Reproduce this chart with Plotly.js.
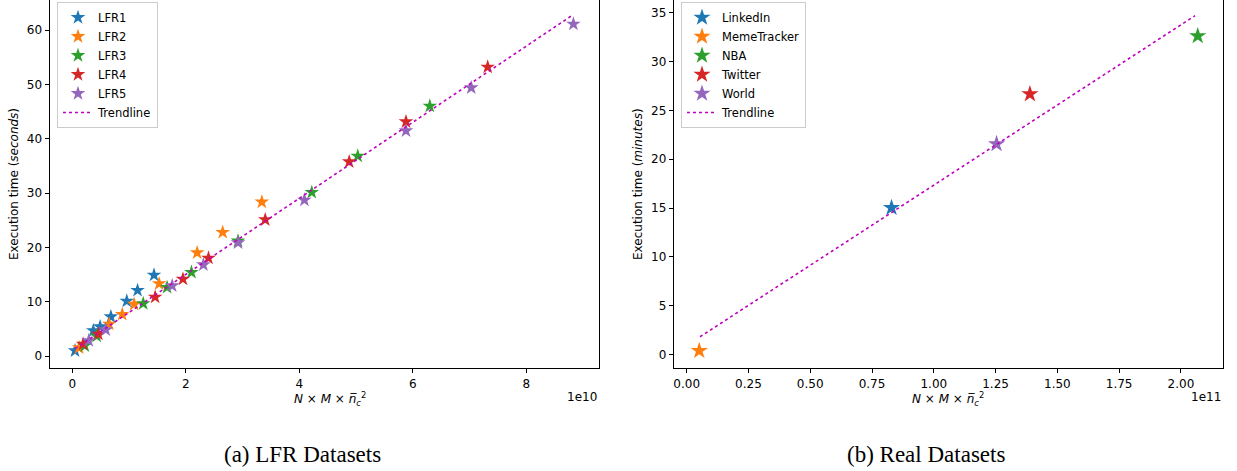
<!DOCTYPE html>
<html>
<head>
<meta charset="utf-8">
<script src="https://cdn.plot.ly/plotly-3.0.1.min.js"></script>
<style>html,body{margin:0;padding:0;background:#fff;}#chart{width:1237px;height:471px;}</style>
</head>
<body>
<div id="chart"></div>
<script>
// ---- Data: (a) LFR datasets, x in units of 1e10, y in seconds ----
const lfrNames = ["LFR1", "LFR2", "LFR3", "LFR4", "LFR5"];
const lfr1X = [0.048, 0.37, 0.49, 0.68, 0.96, 1.15, 1.44];
const lfr1Y = [0.98, 4.66, 5.39, 7.23, 10.12, 12.09, 14.91];
const lfr2X = [0.12, 0.65, 0.88, 1.09, 1.53, 2.20, 2.65, 3.34];
const lfr2Y = [1.53, 5.89, 7.68, 9.53, 13.31, 19.01, 22.77, 28.35];
const lfr3X = [0.22, 0.43, 1.25, 1.67, 2.10, 2.92, 4.22, 5.03, 6.30];
const lfr3Y = [1.90, 3.68, 9.66, 12.64, 15.41, 21.17, 30.13, 36.81, 46.01];
const lfr4X = [0.19, 0.46, 1.46, 1.95, 2.40, 3.40, 4.88, 5.88, 7.32];
const lfr4Y = [2.21, 4.05, 10.86, 14.17, 18.04, 25.09, 35.76, 43.12, 53.19];
const lfr5X = [0.29, 0.59, 1.76, 2.31, 2.92, 4.09, 5.88, 7.03, 8.83];
const lfr5Y = [2.85, 4.84, 12.94, 16.80, 20.85, 28.71, 41.47, 49.38, 61.11];
const lfrTrendX = [0.048, 8.80];
const lfrTrendY = [1.35, 62.64];

// ---- Data: (b) Real datasets, x in units of 1e11, y in minutes ----
const realNames = ["LinkedIn", "MemeTracker", "NBA", "Twitter", "World"];
const realX = [0.829, 0.051, 2.068, 1.389, 1.254];
const realY = [15.03, 0.37, 32.64, 26.69, 21.57];
const realTrendX = [0.054, 2.057];
const realTrendY = [1.80, 34.72];

const colors = ["#1f77b4", "#ff7f0e", "#2ca02c", "#d62728", "#9467bd"];
const trendColor = "#bf00bf";

const lfrX = [lfr1X, lfr2X, lfr3X, lfr4X, lfr5X];
const lfrY = [lfr1Y, lfr2Y, lfr3Y, lfr4Y, lfr5Y];

const traces = [];
lfrNames.forEach((n, i) => {
  traces.push({
    type: "scatter", mode: "markers", name: n,
    x: lfrX[i], y: lfrY[i], xaxis: "x", yaxis: "y", legend: "legend",
    marker: {symbol: "star", size: 11, color: colors[i], line: {width: 0}}
  });
});
traces.push({
  type: "scatter", mode: "lines", name: "Trendline",
  x: lfrTrendX, y: lfrTrendY, xaxis: "x", yaxis: "y", legend: "legend",
  line: {color: trendColor, width: 1.6, dash: "dot"}
});
realNames.forEach((n, i) => {
  traces.push({
    type: "scatter", mode: "markers", name: n,
    x: [realX[i]], y: [realY[i]], xaxis: "x2", yaxis: "y2", legend: "legend2",
    marker: {symbol: "star", size: 13, color: colors[i], line: {width: 0}}
  });
});
traces.push({
  type: "scatter", mode: "lines", name: "Trendline",
  x: realTrendX, y: realTrendY, xaxis: "x2", yaxis: "y2", legend: "legend2",
  line: {color: trendColor, width: 1.6, dash: "dot"}
});

const W = 1237, H = 471;
const px = v => v / W;
const py = v => 1 - v / H;
const font = {family: "DejaVu Sans", size: 12, color: "#000"};
const legFont = {family: "DejaVu Sans", size: 11.5, color: "#000"};

const axBase = {
  showline: true, linecolor: "#000", linewidth: 1,
  ticks: "outside", ticklen: 4.5, tickwidth: 1, tickcolor: "#000",
  showgrid: false, zeroline: false, tickfont: font, automargin: false
};

const xTitle = "<i>N</i> × <i>M</i> × <i>n̅</i><sub><i>c</i></sub><sup>2</sup>";

const layout = {
  width: W, height: H,
  margin: {l: 0, r: 0, t: 0, b: 0},
  paper_bgcolor: "#fff", plot_bgcolor: "#fff",
  font: font,
  showlegend: true,
  xaxis: Object.assign({}, axBase, {
    domain: [px(50), px(598.7)], range: [-0.393, 9.276],
    tickvals: [0, 2, 4, 6, 8], ticktext: ["0", "2", "4", "6", "8"], anchor: "y"
  }),
  yaxis: Object.assign({}, axBase, {
    domain: [py(367.7), 1], range: [-2.15, 65.53], mirror: true,
    tickvals: [0, 10, 20, 30, 40, 50, 60], anchor: "x"
  }),
  xaxis2: Object.assign({}, axBase, {
    domain: [px(674.3), px(1222.7)], range: [-0.050, 2.169],
    tickvals: [0, 0.25, 0.5, 0.75, 1, 1.25, 1.5, 1.75, 2], tickformat: ".2f", anchor: "y2"
  }),
  yaxis2: Object.assign({}, axBase, {
    domain: [py(367.7), 1], range: [-1.37, 36.33], mirror: true,
    tickvals: [0, 5, 10, 15, 20, 25, 30, 35], anchor: "x2"
  }),
  legend: {
    x: px(57), y: py(2), xanchor: "left", yanchor: "top",
    bgcolor: "rgba(255,255,255,0.8)", bordercolor: "#cccccc", borderwidth: 1,
    font: legFont, tracegroupgap: 0, itemwidth: 30
  },
  legend2: {
    x: px(681), y: py(2), xanchor: "left", yanchor: "top",
    bgcolor: "rgba(255,255,255,0.8)", bordercolor: "#cccccc", borderwidth: 1,
    font: legFont, tracegroupgap: 0, itemwidth: 30
  },
  annotations: [
    {text: "Execution time (<i>seconds</i>)", xref: "paper", yref: "paper",
     x: px(14), y: py(184), textangle: -90, showarrow: false,
     xanchor: "center", yanchor: "middle", font: font},
    {text: "Execution time (<i>minutes</i>)", xref: "paper", yref: "paper",
     x: px(638), y: py(184), textangle: -90, showarrow: false,
     xanchor: "center", yanchor: "middle", font: font},
    {text: xTitle, xref: "paper", yref: "paper",
     x: px(330), y: py(399), showarrow: false, xanchor: "center", yanchor: "middle", font: font},
    {text: xTitle, xref: "paper", yref: "paper",
     x: px(948), y: py(399), showarrow: false, xanchor: "center", yanchor: "middle", font: font},
    {text: "1e10", xref: "paper", yref: "paper",
     x: px(598.7), y: py(397), showarrow: false, xanchor: "right", yanchor: "middle", font: font},
    {text: "1e11", xref: "paper", yref: "paper",
     x: px(1222.7), y: py(397), showarrow: false, xanchor: "right", yanchor: "middle", font: font},
    {text: "(a) LFR Datasets", xref: "paper", yref: "paper",
     x: px(302), y: py(454), showarrow: false, xanchor: "center", yanchor: "middle",
     font: {family: "Liberation Serif", size: 23, color: "#000"}},
    {text: "(b) Real Datasets", xref: "paper", yref: "paper",
     x: px(926), y: py(454), showarrow: false, xanchor: "center", yanchor: "middle",
     font: {family: "Liberation Serif", size: 23, color: "#000"}}
  ]
};

Plotly.newPlot("chart", traces, layout, {staticPlot: true, displayModeBar: false});
</script>
</body>
</html>
